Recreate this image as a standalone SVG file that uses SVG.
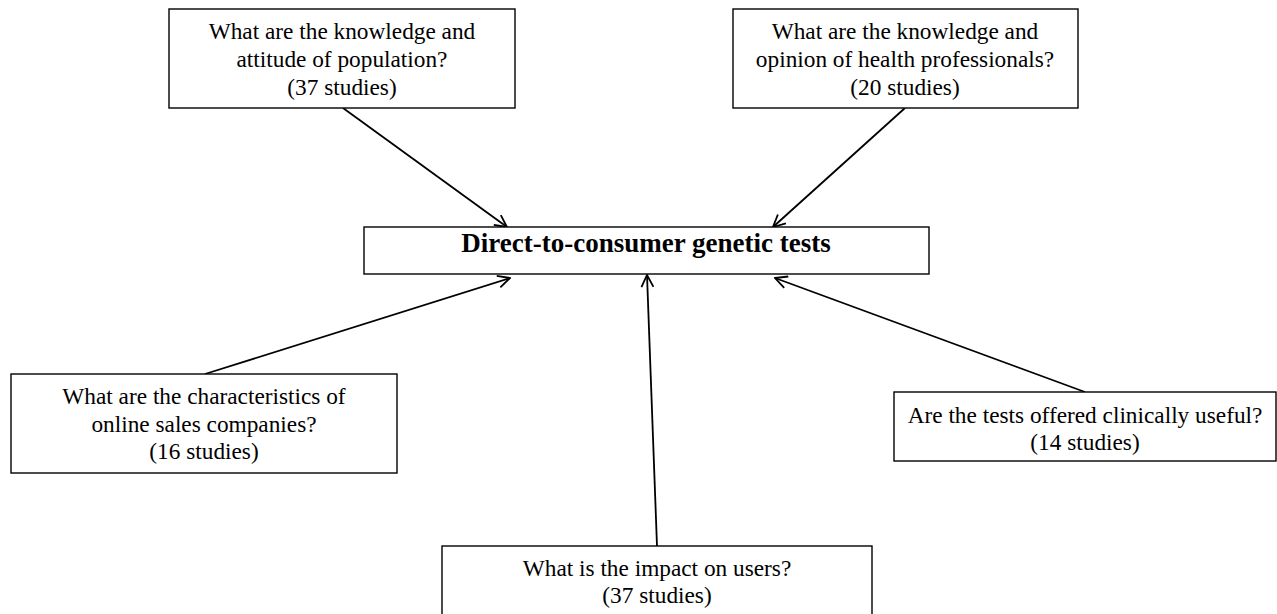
<svg xmlns="http://www.w3.org/2000/svg" width="1277" height="614" viewBox="0 0 1277 614">
<style>
.box{fill:#fff;stroke:#000;stroke-width:1.4}
.t{font-family:"Liberation Serif","Times New Roman",serif;font-size:23.3px;fill:#000;text-anchor:middle}
.title{font-family:"Liberation Serif","Times New Roman",serif;font-size:27px;font-weight:bold;fill:#000;text-anchor:middle}
.conn{stroke:#000;stroke-width:1.8;fill:none;marker-end:url(#arr)}
</style>
<defs>
<marker id="arr" viewBox="0 0 14 14" refX="13" refY="7" markerWidth="14" markerHeight="14" markerUnits="userSpaceOnUse" orient="auto">
<path d="M1,1 L13,7 L1,13" fill="none" stroke="#000" stroke-width="1.8"/>
</marker>
</defs>
<rect width="1277" height="614" fill="#fff"/>
<g id="connectors">
<line class="conn" x1="343" y1="108" x2="507" y2="227"/>
<line class="conn" x1="905" y1="108" x2="773" y2="227"/>
<line class="conn" x1="205" y1="374" x2="510" y2="278"/>
<line class="conn" x1="657" y1="546" x2="647" y2="275"/>
<line class="conn" x1="1085" y1="392" x2="775" y2="278"/>
</g>
<g id="center">
<rect class="box" x="364" y="227" width="565" height="47"/>
<text class="title" x="646" y="252">Direct-to-consumer genetic tests</text>
</g>
<g id="population">
<rect class="box" x="169" y="9" width="346" height="99"/>
<text class="t" x="342" y="39">What are the knowledge and</text>
<text class="t" x="342" y="67">attitude of population?</text>
<text class="t" x="342" y="95">(37 studies)</text>
</g>
<g id="professionals">
<rect class="box" x="733" y="9" width="345" height="99"/>
<text class="t" x="905" y="39">What are the knowledge and</text>
<text class="t" x="905" y="67">opinion of health professionals?</text>
<text class="t" x="905" y="95">(20 studies)</text>
</g>
<g id="companies">
<rect class="box" x="11" y="374" width="386" height="99"/>
<text class="t" x="204" y="404">What are the characteristics of</text>
<text class="t" x="204" y="432">online sales companies?</text>
<text class="t" x="204" y="459">(16 studies)</text>
</g>
<g id="clinical">
<rect class="box" x="894" y="392" width="382" height="69"/>
<text class="t" x="1085" y="423">Are the tests offered clinically useful?</text>
<text class="t" x="1085" y="450">(14 studies)</text>
</g>
<g id="users">
<rect class="box" x="442" y="546" width="430" height="80"/>
<text class="t" x="657" y="576">What is the impact on users?</text>
<text class="t" x="657" y="603">(37 studies)</text>
</g>
</svg>
